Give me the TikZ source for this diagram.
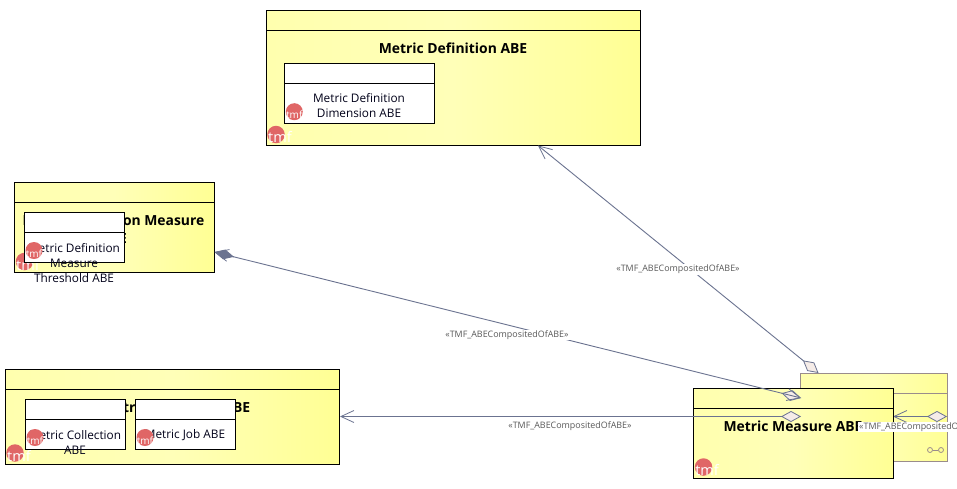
\documentclass[tikz,border=0pt]{standalone}
\usepackage{fontspec}
\setmainfont{Open Sans}
\usetikzlibrary{arrows.meta,calc}
\definecolor{lnk}{HTML}{6B7390}
\definecolor{dia}{HTML}{F5ECE8}
\definecolor{tmfred}{HTML}{E06666}
\definecolor{backline}{HTML}{9A8C8C}
\definecolor{ylA}{HTML}{FFFFAE}
\definecolor{ylM}{HTML}{FFFFB8}
\definecolor{ylB}{HTML}{FFFF94}
\tikzset{
 x=1pt,y=-1pt,
 abe/.style={draw=black,line width=0.9pt,anchor=north west,inner sep=0,outer sep=0,
   left color=ylA,right color=ylB,middle color=ylM},
 backabe/.style={abe,draw=backline},
 inner box/.style={draw=black,line width=0.9pt,fill=white,anchor=north west,inner sep=0,outer sep=0},
 title/.style={font=\fontsize{13.9pt}{18pt}\selectfont\bfseries,text=black,align=center,inner sep=0},
 small/.style={font=\fontsize{11.8pt}{15pt}\selectfont,text=black!90!blue,align=center,inner sep=0},
 lbl/.style={font=\fontsize{8.9pt}{10pt}\selectfont,text=black!65,fill=white,inner sep=1pt},
 conn/.style={draw=lnk,line width=0.9pt},
 opentip/.tip={Straight Barb[length=13pt,width=12pt,line width=0.8pt]},
 diamtip/.tip={Diamond[length=20pt,width=11pt,fill=dia,line width=0.8pt]},
 soliddiam/.tip={Diamond[length=20pt,width=10pt,fill=lnk]},
 bigbadge/.style={circle,fill=tmfred,minimum size=17.5pt,inner sep=0},
 smallbadge/.style={circle,fill=tmfred,minimum size=17pt,inner sep=0},
 badgetxt/.style={font=\fontsize{14.5pt}{15pt}\selectfont,text=white,inner sep=0},
 badgesmall/.style={font=\fontsize{10pt}{10pt}\selectfont,text=white,inner sep=0},
}
\begin{document}
\begin{tikzpicture}
\useasboundingbox (0,0) rectangle (957,488);
\fill[white] (0,0) rectangle (957,488);
% back box
\node[backabe,minimum width=147pt,minimum height=88pt] (back) at (800.5,373.5) {};
\draw[backline,line width=0.9pt] (800.5,393.5) -- (947.5,393.5);
\node[circle,draw=backline,line width=0.8pt,minimum size=5pt,inner sep=0] (loopa) at (930,450) {};
\node[circle,draw=backline,line width=0.8pt,minimum size=5pt,inner sep=0] (loopb) at (941,450) {};
\draw[backline,line width=0.8pt] (loopa) -- (loopb);
% definition
\node[abe,minimum width=373.5pt,minimum height=135pt] (def) at (266.5,10.5) {};
\draw[line width=0.9pt] (266.5,30.5) -- (640,30.5);
\node[title] (deft) at (453,48) {Metric Definition ABE};
\node[bigbadge] (b2) at (276,134.5) {};
\node[badgetxt] (b2t) at (280,137.5) {tmf};
\node[inner box,minimum width=150pt,minimum height=60pt] (dim) at (284.5,63.5) {};
\draw[line width=0.9pt] (284.5,83.5) -- (434.5,83.5);
\node[small] (dimt) at (359,106) {Metric Definition\\Dimension ABE};
\node[smallbadge] (b1) at (294.3,111.7) {};
\node[badgesmall] (b1t) at (294.3,114.7) {tmf};
% measure
\node[abe,minimum width=200pt,minimum height=90pt] (mea) at (14.5,182.5) {};
\draw[line width=0.9pt] (14.5,202.5) -- (214.5,202.5);
\node[title] (meat) at (113.5,229) {Metric Definition Measure\\ABE};
\node[bigbadge] (b3) at (24.5,261.5) {};
\node[badgetxt] (b3t) at (28,265.5) {tmf};
\node[inner box,minimum width=100pt,minimum height=50pt] (thr) at (24.5,212.5) {};
\draw[line width=0.9pt] (24.5,232.5) -- (124.5,232.5);
\node[small] (thrt) at (74,263) {Metric Definition\\Measure\\Threshold ABE};
\node[smallbadge] (b4) at (34,250.5) {};
\node[badgesmall] (b4t) at (34,253.5) {tmf};
% collection
\node[abe,minimum width=334pt,minimum height=95pt] (col) at (5.5,369.5) {};
\draw[line width=0.9pt] (5.5,389.5) -- (339.5,389.5);
\node[title] (colt) at (176,407) {Metric Collection ABE};
\node[bigbadge] (b5) at (15,453) {};
\node[badgetxt] (b5t) at (19,456.5) {tmf};
\node[inner box,minimum width=100pt,minimum height=50pt] (cc) at (25.5,399.5) {};
\draw[line width=0.9pt] (25.5,419.5) -- (125.5,419.5);
\node[small] (cct) at (75,442.5) {Metric Collection\\ABE};
\node[smallbadge] (b6) at (35,437.5) {};
\node[badgesmall] (b6t) at (35,440.5) {tmf};
\node[inner box,minimum width=100pt,minimum height=50pt] (jb) at (135.5,399.5) {};
\draw[line width=0.9pt] (135.5,419.5) -- (235.5,419.5);
\node[small] (jbt) at (185,435) {Metric Job ABE};
\node[smallbadge] (b7) at (145,437.5) {};
\node[badgesmall] (b7t) at (145,440.5) {tmf};
% connector in back
\coordinate (bL) at (893,416.5);
\coordinate (bR) at (947,416.5);
\draw[conn,opentip-diamtip] (bL) -- (bR);
% front box
\node[abe,minimum width=200pt,minimum height=90pt] (fr) at (693.5,388.5) {};
\draw[line width=0.9pt] (693.5,408.5) -- (893.5,408.5);
\node[title] (frt) at (793,426) {Metric Measure ABE};
\node[bigbadge] (b8) at (703.5,467) {};
\node[badgetxt] (b8t) at (707,470.5) {tmf};
% connectors
\coordinate (defEnd) at (538,145.5);
\coordinate (backTop) at (818.5,373);
\coordinate (meaEnd) at (214.5,252);
\coordinate (frTop) at (801,398);
\coordinate (colEnd) at (340,416.5);
\coordinate (frMid) at (801,416.5);
\draw[conn,opentip-diamtip] (defEnd) -- (backTop);
\draw[conn,soliddiam-diamtip] (meaEnd) -- (frTop);
\draw[conn,opentip-diamtip] (colEnd) -- (frMid);
\draw[conn,-opentip] ($(frTop)!20pt!(meaEnd)$) -- (frTop);
\draw[conn,-opentip] ($(meaEnd)!20pt!(frTop)$) -- (meaEnd);
% labels
\node[lbl] (l1) at (678,269.5) {«TMF\_ABECompositedOfABE»};
\node[lbl] (l2) at (507,335) {«TMF\_ABECompositedOfABE»};
\node[lbl] (l3) at (570,426.5) {«TMF\_ABECompositedOfABE»};
\node[lbl,anchor=west] (l4) at (858,427) {«TMF\_ABECompositedOfABE»};
\end{tikzpicture}
\end{document}
